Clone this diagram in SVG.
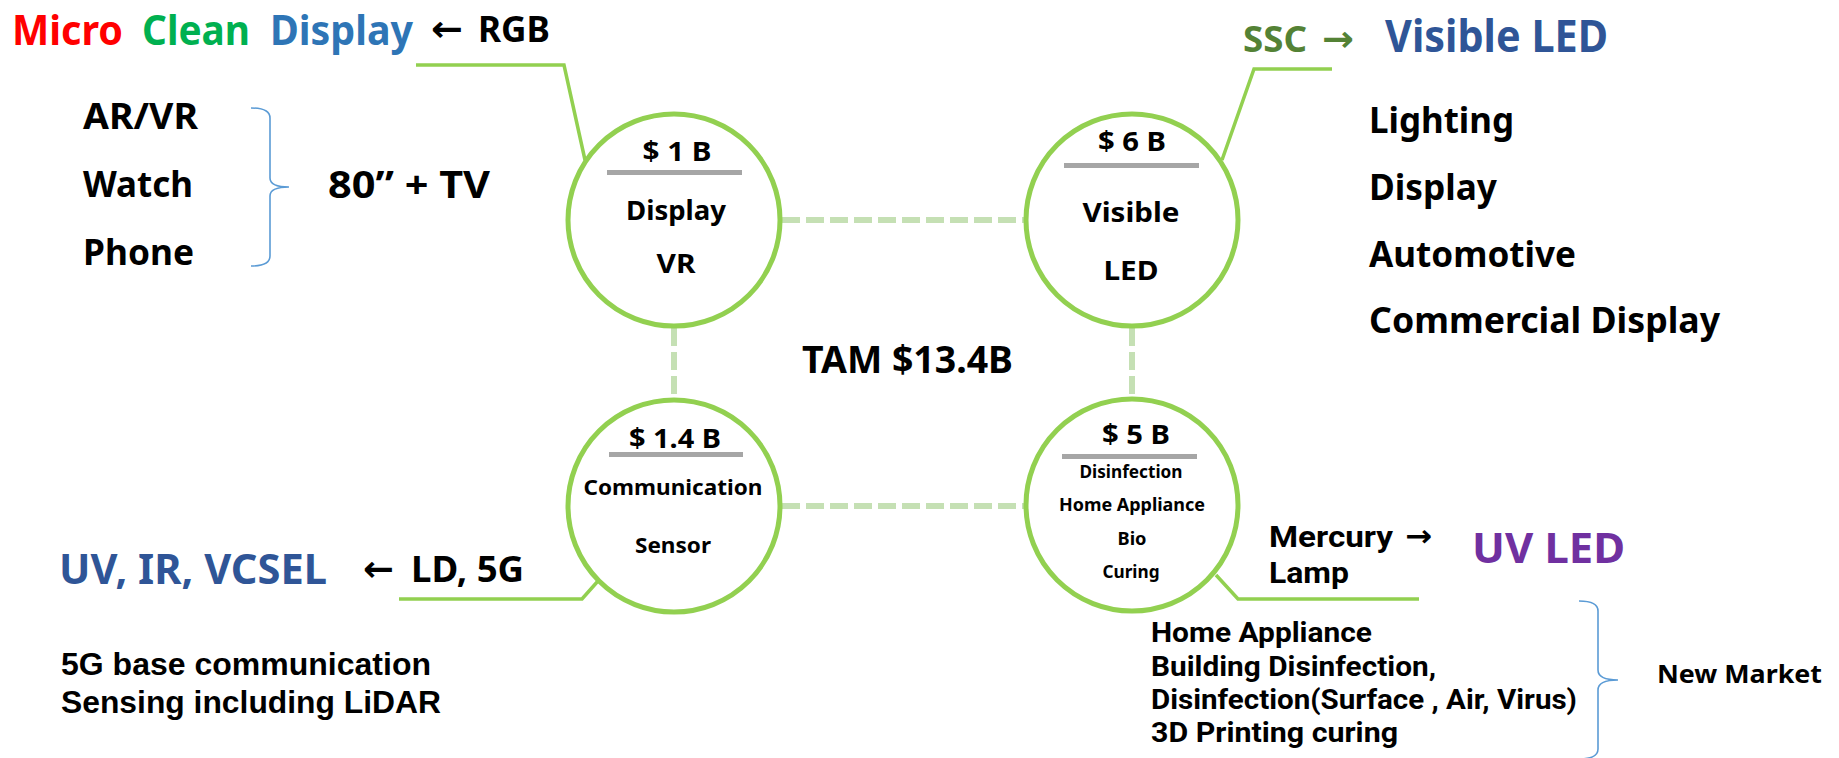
<svg xmlns="http://www.w3.org/2000/svg" width="1839" height="758" viewBox="0 0 1839 758">
<style>
text{font-family:"Noto Sans","Open Sans","Liberation Sans",sans-serif;font-weight:700;fill:#000}
.node{fill:#fff;stroke:#92d050;stroke-width:5}
.bar{fill:#a6a6a6}
.lead{fill:none;stroke:#92d050;stroke-width:3.5}
.dash{fill:none;stroke:#c5e0b4;stroke-width:6;stroke-dasharray:18 6}
.brace{fill:none;stroke:#5b9bd5;stroke-width:1.6}
.arial{font-family:"Liberation Sans",Arial,sans-serif}
.rob{font-family:Roboto,"Liberation Sans",sans-serif}
.arr{font-family:"DejaVu Sans",sans-serif;font-weight:700}
.c{text-anchor:middle}
</style>
<rect width="1839" height="758" fill="#fff"/>
<g id="connectors">
<path class="dash" d="M782 220H1024"/>
<path class="dash" d="M782 506H1024"/>
<path class="dash" d="M674 328V399"/>
<path class="dash" d="M1132 328V397"/>
<path class="lead" d="M416 65H564L585 160"/>
<path class="lead" d="M1222 160L1254 69H1332"/>
<path class="lead" d="M399 599H582L598 581"/>
<path class="lead" d="M1216 575L1238 599H1419"/>
</g>
<g id="node-display">
<circle class="node" cx="674" cy="220" r="106"/>
<text x="677" y="161" font-size="26" class="c" textLength="69" lengthAdjust="spacingAndGlyphs">$ 1 B</text>
<rect class="bar" x="607" y="170" width="135" height="5"/>
<text x="676" y="220" font-size="27" class="c" textLength="100" lengthAdjust="spacingAndGlyphs">Display</text>
<text x="676" y="273" font-size="27" class="c" textLength="39" lengthAdjust="spacingAndGlyphs">VR</text>
</g>
<g id="node-visible">
<circle class="node" cx="1132" cy="220" r="106"/>
<text x="1132" y="151" font-size="26" class="c" textLength="68" lengthAdjust="spacingAndGlyphs">$ 6 B</text>
<rect class="bar" x="1064" y="163" width="135" height="5"/>
<text x="1131" y="222" font-size="27" class="c" textLength="97" lengthAdjust="spacingAndGlyphs">Visible</text>
<text x="1131" y="280" font-size="27" class="c" textLength="55" lengthAdjust="spacingAndGlyphs">LED</text>
</g>
<g id="node-comm">
<circle class="node" cx="674" cy="506" r="106"/>
<text x="675" y="448" font-size="26" class="c" textLength="92" lengthAdjust="spacingAndGlyphs">$ 1.4 B</text>
<rect class="bar" x="609" y="452" width="134" height="5"/>
<text x="673" y="495" font-size="22" class="c" textLength="179" lengthAdjust="spacingAndGlyphs">Communication</text>
<text x="673" y="553" font-size="22" class="c" textLength="76" lengthAdjust="spacingAndGlyphs">Sensor</text>
</g>
<g id="node-uv">
<circle class="node" cx="1132" cy="505" r="106"/>
<text x="1136" y="444" font-size="26" class="c" textLength="68" lengthAdjust="spacingAndGlyphs">$ 5 B</text>
<rect class="bar" x="1062" y="454" width="135" height="5"/>
<text x="1131" y="478" font-size="18" class="c" textLength="103" lengthAdjust="spacingAndGlyphs">Disinfection</text>
<text x="1132" y="511" font-size="18" class="c" textLength="146" lengthAdjust="spacingAndGlyphs">Home Appliance</text>
<text x="1132" y="545" font-size="18" class="c" textLength="29" lengthAdjust="spacingAndGlyphs">Bio</text>
<text x="1131" y="578" font-size="18" class="c" textLength="57" lengthAdjust="spacingAndGlyphs">Curing</text>
</g>
<g id="label-tam">
<text x="802" y="373" font-size="37" textLength="211" lengthAdjust="spacingAndGlyphs">TAM $13.4B</text>
</g>
<g id="label-micro">
<text x="12" y="45" font-size="42" style="fill:#ff0000" textLength="111" lengthAdjust="spacingAndGlyphs">Micro</text>
<text x="142" y="45" font-size="42" style="fill:#00b050" textLength="108" lengthAdjust="spacingAndGlyphs">Clean</text>
<text x="270" y="45" font-size="42" style="fill:#2e75b6" textLength="143" lengthAdjust="spacingAndGlyphs">Display</text>
<text class="arr" x="431" y="41" font-size="36" textLength="32" lengthAdjust="spacingAndGlyphs">←</text>
<text x="478" y="42" font-size="36" textLength="72" lengthAdjust="spacingAndGlyphs">RGB</text>
<text x="83" y="129" font-size="36" textLength="115" lengthAdjust="spacingAndGlyphs">AR/VR</text>
<text x="83" y="197" font-size="36" textLength="110" lengthAdjust="spacingAndGlyphs">Watch</text>
<text x="83" y="265" font-size="36" textLength="111" lengthAdjust="spacingAndGlyphs">Phone</text>
<path class="brace" d="M251 108Q270 108 270 118V178Q270 187 289 187Q270 187 270 196V256Q270 266 251 266"/>
<text x="328" y="198" font-size="38" textLength="162" lengthAdjust="spacingAndGlyphs">80” + TV</text>
</g>
<g id="label-visible">
<text x="1243" y="52" font-size="36" style="fill:#548235" textLength="64" lengthAdjust="spacingAndGlyphs">SSC</text>
<text class="arr" x="1322" y="51" font-size="36" style="fill:#548235" textLength="32" lengthAdjust="spacingAndGlyphs">→</text>
<text x="1385" y="52" font-size="44" style="fill:#2f5597" textLength="223" lengthAdjust="spacingAndGlyphs">Visible LED</text>
<text x="1369" y="133" font-size="36" textLength="145" lengthAdjust="spacingAndGlyphs">Lighting</text>
<text x="1369" y="200" font-size="36" textLength="128" lengthAdjust="spacingAndGlyphs">Display</text>
<text x="1369" y="267" font-size="36" textLength="207" lengthAdjust="spacingAndGlyphs">Automotive</text>
<text x="1369" y="333" font-size="36" textLength="351" lengthAdjust="spacingAndGlyphs">Commercial Display</text>
</g>
<g id="label-comm">
<text x="59" y="584" font-size="42" style="fill:#2f5597" textLength="268" lengthAdjust="spacingAndGlyphs">UV, IR, VCSEL</text>
<text class="arr" x="363" y="581" font-size="36" textLength="31" lengthAdjust="spacingAndGlyphs">←</text>
<text x="411" y="582" font-size="36" textLength="113" lengthAdjust="spacingAndGlyphs">LD, 5G</text>
<text class="arial" x="61" y="675" font-size="31" textLength="370" lengthAdjust="spacingAndGlyphs">5G base communication</text>
<text class="arial" x="61" y="713" font-size="31" textLength="380" lengthAdjust="spacingAndGlyphs">Sensing including LiDAR</text>
</g>
<g id="label-uv">
<text class="rob" x="1269" y="547" font-size="30" textLength="124" lengthAdjust="spacingAndGlyphs">Mercury</text>
<text class="arr" x="1405" y="546" font-size="30" textLength="27" lengthAdjust="spacingAndGlyphs">→</text>
<text class="rob" x="1269" y="583" font-size="30" textLength="80" lengthAdjust="spacingAndGlyphs">Lamp</text>
<text x="1472" y="563" font-size="42" style="fill:#7030a0" textLength="153" lengthAdjust="spacingAndGlyphs">UV LED</text>
<text class="rob" x="1151" y="642" font-size="27" textLength="221" lengthAdjust="spacingAndGlyphs">Home Appliance</text>
<text class="rob" x="1151" y="676" font-size="27" textLength="285" lengthAdjust="spacingAndGlyphs">Building Disinfection,</text>
<text class="rob" x="1151" y="709" font-size="27" textLength="426" lengthAdjust="spacingAndGlyphs">Disinfection(Surface , Air, Virus)</text>
<text class="rob" x="1151" y="742" font-size="27" textLength="247" lengthAdjust="spacingAndGlyphs">3D Printing curing</text>
<path class="brace" d="M1579 601Q1598 601 1598 611V670Q1598 680 1618 680Q1598 680 1598 690V749Q1598 759 1579 759"/>
<text x="1657" y="683" font-size="25" textLength="165" lengthAdjust="spacingAndGlyphs">New Market</text>
</g>
</svg>
